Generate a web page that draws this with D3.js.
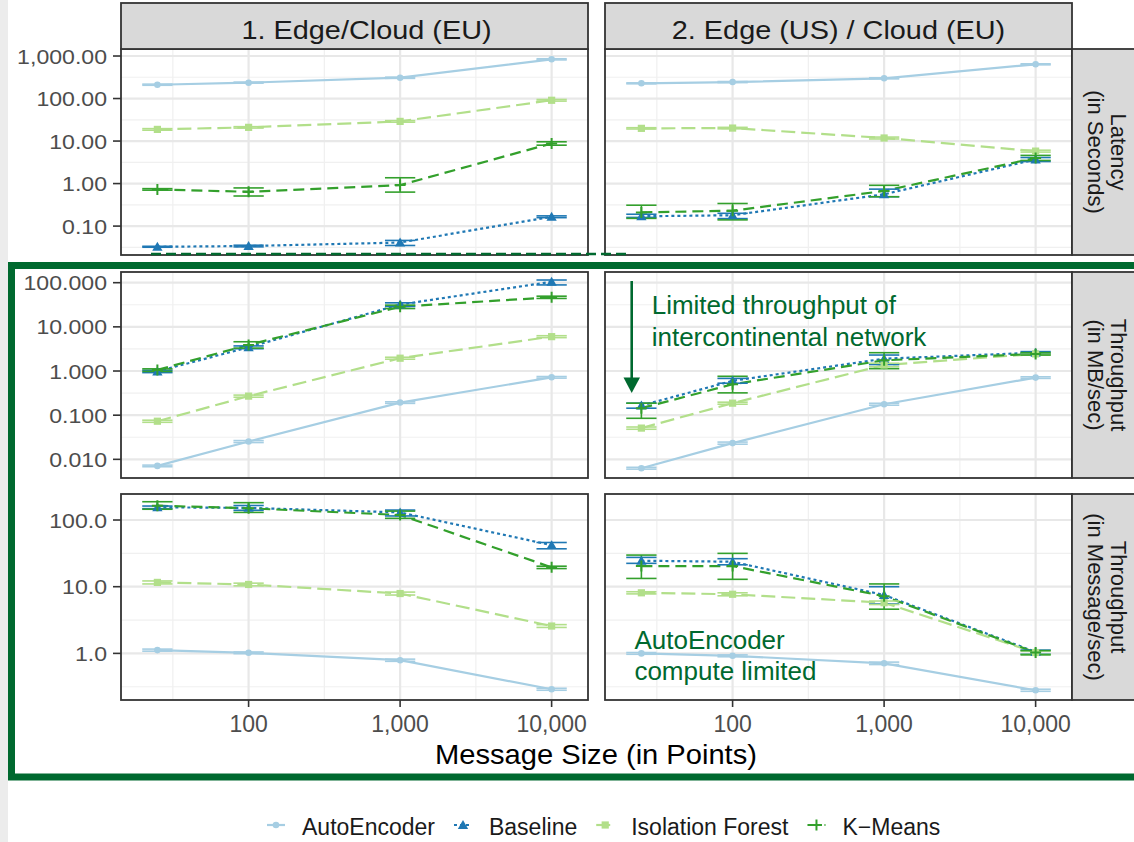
<!DOCTYPE html>
<html>
<head>
<meta charset="utf-8">
<script src="https://cdn.jsdelivr.net/npm/d3@7"></script>
<style>
  body { margin: 0; background: #fff; }
  svg { display: block; font-family: "Liberation Sans", Arial, sans-serif; }
</style>
</head>
<body>
<div id="chart"></div>
<script>
// ---- data -------------------------------------------------------------
const sizes = [25, 100, 1000, 10000];
const series = ["AutoEncoder", "Baseline", "Isolation Forest", "K-Means"];
const legendLabels = ["AutoEncoder", "Baseline", "Isolation Forest", "K\u2212Means"];
const setups = ["1. Edge/Cloud (EU)", "2. Edge (US) / Cloud (EU)"];
const metrics = [["Latency", "(in Seconds)"], ["Throughput", "(in MB/sec)"], ["Throughput", "(in Message/sec)"]];

// each entry: [mean, lower, upper] for sizes 25, 100, 1000, 10000
// Latency (s), setup 1
const latEU_auto = [[211, 205, 218], [236, 230, 243], [309, 298, 318], [836, 810, 862]];
const latEU_base = [[0.0326, 0.0318, 0.0335], [0.034, 0.0325, 0.0355], [0.041, 0.035, 0.046], [0.166, 0.158, 0.174]];
const latEU_iso = [[18.8, 18.0, 19.6], [21, 20.2, 21.8], [29, 27.8, 30.2], [91, 87, 95]];
const latEU_km = [[0.73, 0.70, 0.76], [0.64, 0.51, 0.79], [0.92, 0.63, 1.37], [8.8, 8.0, 9.6]];
// Latency (s), setup 2
const latUS_auto = [[228, 222, 234], [244, 237, 251], [299, 290, 308], [638, 620, 656]];
const latUS_base = [[0.17, 0.16, 0.19], [0.18, 0.15, 0.20], [0.56, 0.49, 0.74], [3.7, 3.3, 4.1]];
const latUS_iso = [[19.9, 19.2, 20.6], [20.2, 19.4, 21.0], [11.8, 11.2, 12.4], [5.8, 5.5, 6.1]];
const latUS_km = [[0.21, 0.152, 0.31], [0.23, 0.14, 0.34], [0.67, 0.49, 0.91], [4.0, 3.5, 4.6]];
// Throughput (MB/sec), setup 1
const mbEU_auto = [[0.0071, 0.0068, 0.0074], [0.0253, 0.024, 0.0266], [0.193, 0.185, 0.201], [0.72, 0.69, 0.75]];
const mbEU_base = [[0.98, 0.92, 1.04], [3.45, 3.2, 3.7], [32, 29, 35], [105, 89, 115]];
const mbEU_iso = [[0.073, 0.069, 0.077], [0.27, 0.255, 0.285], [1.95, 1.85, 2.05], [6.0, 5.7, 6.3]];
const mbEU_km = [[1.06, 0.98, 1.12], [3.9, 3.3, 4.6], [28.6, 26, 31], [46.8, 44, 49.5]];
// Throughput (MB/sec), setup 2
const mbUS_auto = [[0.0063, 0.006, 0.0066], [0.0233, 0.022, 0.0246], [0.177, 0.168, 0.186], [0.71, 0.68, 0.74]];
const mbUS_base = [[0.165, 0.144, 0.187], [0.6, 0.53, 0.68], [1.9, 1.4, 2.3], [2.6, 2.45, 2.75]];
const mbUS_iso = [[0.051, 0.048, 0.054], [0.187, 0.177, 0.197], [1.37, 1.25, 1.5], [2.44, 2.3, 2.58]];
const mbUS_km = [[0.144, 0.085, 0.187], [0.5, 0.32, 0.76], [1.75, 1.13, 2.6], [2.44, 2.3, 2.6]];
// Throughput (messages/sec), setup 1
const msgEU_auto = [[1.12, 1.08, 1.16], [1.02, 0.99, 1.05], [0.79, 0.76, 0.82], [0.29, 0.28, 0.30]];
const msgEU_base = [[155, 148, 162], [152, 140, 165], [130, 115, 141], [42, 37, 46]];
const msgEU_iso = [[11.6, 11.0, 12.2], [10.8, 10.3, 11.3], [7.9, 7.5, 8.3], [2.57, 2.45, 2.7]];
const msgEU_km = [[164, 145, 188], [150, 130, 182], [119, 106, 136], [19.5, 18.7, 20.3]];
// Throughput (messages/sec), setup 2
const msgUS_auto = [[1.0, 0.97, 1.03], [0.92, 0.89, 0.95], [0.71, 0.68, 0.74], [0.28, 0.27, 0.29]];
const msgUS_base = [[24.5, 22.4, 27.5], [23.7, 21.3, 26.3], [7.5, 5.5, 10.0], [1.05, 0.98, 1.12]];
const msgUS_iso = [[8.1, 7.8, 8.4], [7.7, 7.3, 8.1], [5.75, 5.4, 6.1], [1.03, 0.97, 1.09]];
const msgUS_km = [[20.4, 13.3, 29.8], [20.4, 12.9, 31.6], [7.2, 4.6, 11.0], [1.03, 0.95, 1.1]];

const xTicks = [100, 1000, 10000];
const yTicks = [[0.1, 1, 10, 100, 1000], [0.01, 0.1, 1, 10, 100], [1, 10, 100]];
const yFormats = [",.2f", ",.3f", ",.1f"];
const yDomains = [[0.0209, 1462], [0.00378, 174.6], [0.2, 245.5]];

const panels = [
  [[latEU_auto, latEU_base, latEU_iso, latEU_km], [latUS_auto, latUS_base, latUS_iso, latUS_km]],
  [[mbEU_auto, mbEU_base, mbEU_iso, mbEU_km], [mbUS_auto, mbUS_base, mbUS_iso, mbUS_km]],
  [[msgEU_auto, msgEU_base, msgEU_iso, msgEU_km], [msgUS_auto, msgUS_base, msgUS_iso, msgUS_km]]
];

// ---- styles / layout ---------------------------------------------------
const colors = ["#a6cee3", "#1f78b4", "#b2df8a", "#33a02c"];
const dashes = [null, "3,3", "14,6", "11,6"];
const accent = "#00692f";

const W = 1134, H = 842;
const colX = [121, 605], panelW = 467;
const rowY = [49, 272, 494], panelH = 206;
const stripDx = [12, 0];

const svg = d3.select("#chart").append("svg")
  .attr("width", W).attr("height", H);

svg.append("rect").attr("width", W).attr("height", H).attr("fill", "#fff");
svg.append("rect").attr("width", 8).attr("height", H).attr("fill", "#ececec");

// x scale: log, errorbar half-width 0.1 decade, ggplot 5% expansion
const lx0 = Math.log10(d3.min(sizes)) - 0.1, lx1 = Math.log10(d3.max(sizes)) + 0.1;
const xPad = (lx1 - lx0) * 0.05;
const xDomain = [Math.pow(10, lx0 - xPad), Math.pow(10, lx1 + xPad)];

function minorBreaks(domain) {
  const a = Math.floor(Math.log10(domain[0])), b = Math.ceil(Math.log10(domain[1]));
  const out = [];
  for (let k = a; k <= b; k++) {
    const v = Math.pow(10, k + 0.5);
    if (v > domain[0] && v < domain[1]) out.push(v);
  }
  return out;
}

function marker(g, i, x, y) {
  const c = colors[i];
  if (i === 0) {
    g.append("circle").attr("cx", x).attr("cy", y).attr("r", 3.3).attr("fill", c);
  } else if (i === 1) {
    g.append("path").attr("d", d3.symbol(d3.symbolTriangle, 46)())
      .attr("transform", `translate(${x},${y + 1})`).attr("fill", c);
  } else if (i === 2) {
    g.append("path").attr("d", d3.symbol(d3.symbolSquare, 52)())
      .attr("transform", `translate(${x},${y})`).attr("fill", c);
  } else {
    g.append("path").attr("d", "M-5.5,0H5.5M0,-5.5V5.5")
      .attr("transform", `translate(${x},${y})`)
      .attr("stroke", c).attr("stroke-width", 2).attr("fill", "none");
  }
}

function stretchText(g, str, x, y, size, sx, anchor) {
  return g.append("text")
    .attr("transform", `translate(${x},${y}) scale(${sx},1)`)
    .attr("text-anchor", anchor)
    .attr("font-size", size)
    .text(str);
}

for (let r = 0; r < 3; r++) {
  const y = d3.scaleLog().domain(yDomains[r]).range([rowY[r] + panelH, rowY[r]]);
  for (let c = 0; c < 2; c++) {
    const x = d3.scaleLog().domain(xDomain).range([colX[c], colX[c] + panelW]);
    const g = svg.append("g");

    g.append("rect").attr("x", colX[c]).attr("y", rowY[r])
      .attr("width", panelW).attr("height", panelH).attr("fill", "#fff");

    // grid
    g.selectAll(".vminor").data(minorBreaks(xDomain)).join("line")
      .attr("x1", d => x(d)).attr("x2", d => x(d))
      .attr("y1", rowY[r]).attr("y2", rowY[r] + panelH)
      .attr("stroke", "#f0f0f0").attr("stroke-width", 1.2);
    g.selectAll(".hminor").data(minorBreaks(yDomains[r])).join("line")
      .attr("y1", d => y(d)).attr("y2", d => y(d))
      .attr("x1", colX[c]).attr("x2", colX[c] + panelW)
      .attr("stroke", "#f0f0f0").attr("stroke-width", 1.2);
    g.selectAll(".vmajor").data(xTicks).join("line")
      .attr("x1", d => x(d)).attr("x2", d => x(d))
      .attr("y1", rowY[r]).attr("y2", rowY[r] + panelH)
      .attr("stroke", "#e8e8e8").attr("stroke-width", 2.2);
    g.selectAll(".hmajor").data(yTicks[r]).join("line")
      .attr("y1", d => y(d)).attr("y2", d => y(d))
      .attr("x1", colX[c]).attr("x2", colX[c] + panelW)
      .attr("stroke", "#e8e8e8").attr("stroke-width", 2.2);

    const data = panels[r][c];
    const line = d3.line().x((d, k) => x(sizes[k])).y(d => y(d[0]));

    // lines
    data.forEach((s, i) => {
      g.append("path").datum(s).attr("d", line)
        .attr("fill", "none").attr("stroke", colors[i])
        .attr("stroke-width", 2.2)
        .attr("stroke-dasharray", dashes[i]);
    });
    // error bars
    data.forEach((s, i) => {
      s.forEach((d, k) => {
        const cx = x(sizes[k]);
        const xl = x(sizes[k] / Math.pow(10, 0.1)), xr = x(sizes[k] * Math.pow(10, 0.1));
        const eb = g.append("g").attr("stroke", colors[i]).attr("stroke-width", 1.6);
        eb.append("line").attr("x1", cx).attr("x2", cx).attr("y1", y(d[1])).attr("y2", y(d[2]));
        eb.append("line").attr("x1", xl).attr("x2", xr).attr("y1", y(d[1])).attr("y2", y(d[1]));
        eb.append("line").attr("x1", xl).attr("x2", xr).attr("y1", y(d[2])).attr("y2", y(d[2]));
      });
    });
    // points
    data.forEach((s, i) => {
      s.forEach((d, k) => marker(g, i, x(sizes[k]), y(d[0])));
    });

    g.append("rect").attr("x", colX[c]).attr("y", rowY[r])
      .attr("width", panelW).attr("height", panelH)
      .attr("fill", "none").attr("stroke", "#333").attr("stroke-width", 1.8);

    // y axis on left column
    if (c === 0) {
      yTicks[r].forEach(t => {
        g.append("line").attr("x1", colX[0] - 8).attr("x2", colX[0])
          .attr("y1", y(t)).attr("y2", y(t))
          .attr("stroke", "#333").attr("stroke-width", 1.6);
        stretchText(g, d3.format(yFormats[r])(t), colX[0] - 14, y(t) + 7.6, 21, 1.1, "end")
          .attr("fill", "#4d4d4d");
      });
    }
    // x axis on bottom row
    if (r === 2) {
      xTicks.forEach(t => {
        g.append("line").attr("x1", x(t)).attr("x2", x(t))
          .attr("y1", rowY[2] + panelH).attr("y2", rowY[2] + panelH + 7)
          .attr("stroke", "#333").attr("stroke-width", 1.6);
        g.append("text").attr("x", x(t)).attr("y", 731.5)
          .attr("text-anchor", "middle").attr("font-size", 23)
          .attr("fill", "#4d4d4d").text(d3.format(",")(t));
      });
    }
  }

  // right strip
  const sy = rowY[r] + panelH / 2;
  svg.append("rect").attr("x", colX[1] + panelW).attr("y", rowY[r])
    .attr("width", 80).attr("height", panelH)
    .attr("fill", "#d9d9d9").attr("stroke", "#333").attr("stroke-width", 1.8);
  metrics[r].forEach((txt, j) => {
    svg.append("text")
      .attr("transform", `translate(${j === 0 ? 1111 : 1088},${sy}) rotate(90)`)
      .attr("text-anchor", "middle").attr("font-size", 22)
      .attr("fill", "#1a1a1a").text(txt);
  });
}

// top strips
setups.forEach((s, c) => {
  svg.append("rect").attr("x", colX[c]).attr("y", 3)
    .attr("width", panelW).attr("height", rowY[0] - 3)
    .attr("fill", "#d9d9d9").attr("stroke", "#333").attr("stroke-width", 1.8);
  stretchText(svg, s, colX[c] + panelW / 2 + stripDx[c], 39.3, 26, 1.11, "middle")
    .attr("fill", "#1a1a1a");
});

// axis title
stretchText(svg, "Message Size (in Points)", 596, 764, 28, 1.04, "middle").attr("fill", "#000");

// legend
let lx = 267;
const legend = svg.append("g");
series.forEach((s, i) => {
  legend.append("line").attr("x1", lx).attr("x2", lx + 18).attr("y1", 825).attr("y2", 825)
    .attr("stroke", colors[i]).attr("stroke-width", 2.2).attr("stroke-dasharray", dashes[i]);
  marker(legend, i, lx + 9, 825);
  const t = legend.append("text").attr("x", lx + 35).attr("y", 835)
    .attr("font-size", 23).attr("fill", "#1a1a1a").text(legendLabels[i]);
  lx += 35 + t.node().getComputedTextLength() + 19;
});

// annotations
const ann = svg.append("g").attr("fill", accent);
ann.append("path").attr("d", "M151,254H630")
  .attr("stroke", accent).attr("stroke-width", 2.5).attr("stroke-dasharray", "10,5");
ann.append("line").attr("x1", 631.7).attr("x2", 631.7).attr("y1", 281).attr("y2", 380)
  .attr("stroke", accent).attr("stroke-width", 2.6);
ann.append("path").attr("d", "M623.5,377.5L640,377.5L631.7,393Z");
ann.append("text").attr("x", 651.7).attr("y", 314).attr("font-size", 26).text("Limited throughput of");
ann.append("text").attr("x", 651.7).attr("y", 346.3).attr("font-size", 26).text("intercontinental network");
ann.append("text").attr("x", 634.4).attr("y", 648.5).attr("font-size", 26).text("AutoEncoder");
ann.append("text").attr("x", 634.4).attr("y", 679.5).attr("font-size", 26).text("compute limited");
svg.append("rect").attr("x", 11.5).attr("y", 265.5).attr("width", 1140).attr("height", 511.5)
  .attr("fill", "none").attr("stroke", accent).attr("stroke-width", 7);
</script>
</body>
</html>
